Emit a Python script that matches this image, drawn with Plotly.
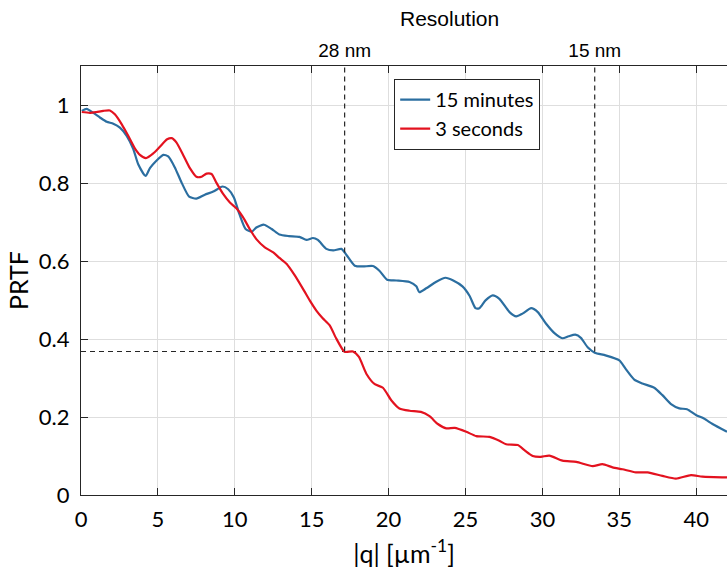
import plotly.graph_objects as go

# Phase retrieval transfer function vs. spatial frequency |q| (µm^-1)
q_15min = [0.05, 0.37, 0.8, 1.23, 1.67, 2.1, 2.53, 2.97, 3.4, 3.72, 4.2, 4.48, 4.9, 5.35, 5.67,
           6.1, 6.54, 7.03, 7.5, 8.05, 8.6, 9.2, 9.57, 9.94, 10.3, 10.7, 11.1, 11.4, 11.9, 12.4,
           12.9, 13.5, 14.2, 14.66, 15.08, 15.4, 15.95, 16.4, 16.93, 17.25, 17.8, 18.33, 18.98,
           19.4, 19.9, 20.5, 21.36, 21.8, 22.0, 22.45, 23.1, 23.7, 24.2, 24.8, 25.26, 25.65, 25.9,
           26.3, 26.77, 27.2, 27.86, 28.3, 28.7, 29.27, 29.7, 30.24, 30.78, 31.3, 31.7, 32.14,
           32.5, 32.94, 33.4, 34.1, 35.0, 35.4, 35.97, 36.5, 37.27, 37.8, 38.36, 38.9, 39.4,
           39.98, 40.5, 41.06, 42.0]
prtf_15min = [0.985, 0.99, 0.98, 0.968, 0.957, 0.952, 0.942, 0.921, 0.887, 0.848, 0.818, 0.838,
              0.857, 0.872, 0.868, 0.84, 0.801, 0.765, 0.76, 0.77, 0.778, 0.791, 0.784, 0.763,
              0.72, 0.682, 0.675, 0.686, 0.693, 0.682, 0.668, 0.664, 0.662, 0.654, 0.659, 0.654,
              0.631, 0.627, 0.631, 0.616, 0.588, 0.586, 0.587, 0.575, 0.552, 0.55, 0.546, 0.535,
              0.52, 0.53, 0.547, 0.557, 0.55, 0.535, 0.511, 0.479, 0.479, 0.499, 0.512, 0.503,
              0.469, 0.458, 0.465, 0.479, 0.469, 0.439, 0.415, 0.402, 0.407, 0.411, 0.403, 0.379,
              0.365, 0.358, 0.345, 0.324, 0.296, 0.286, 0.275, 0.256, 0.233, 0.222, 0.22, 0.205,
              0.196, 0.182, 0.162]

q_3s = [0.05, 0.58, 1.0, 1.45, 1.88, 2.2, 2.64, 3.07, 3.5, 3.83, 4.22, 4.7, 5.13, 5.6, 5.9, 6.2,
        6.64, 7.08, 7.5, 7.84, 8.16, 8.49, 8.8, 9.24, 9.68, 10.1, 10.54, 10.97, 11.4, 11.95,
        12.5, 12.9, 13.36, 13.9, 14.5, 14.87, 15.3, 15.7, 16.17, 16.6, 17.14, 17.68, 18.07,
        18.55, 19.1, 19.63, 20.17, 20.7, 21.36, 22.1, 22.66, 23.2, 23.75, 24.3, 25.05, 25.7,
        26.56, 27.2, 27.64, 28.4, 28.83, 29.37, 29.9, 30.45, 31.3, 32.2, 33.27, 33.9, 34.56,
        35.2, 36.08, 36.84, 37.8, 38.68, 39.66, 40.4, 42.0]
prtf_3s = [0.982, 0.98, 0.982, 0.985, 0.986, 0.976, 0.951, 0.921, 0.889, 0.872, 0.864, 0.876,
           0.893, 0.912, 0.915, 0.904, 0.872, 0.838, 0.816, 0.816, 0.824, 0.823, 0.801, 0.772,
           0.75, 0.735, 0.712, 0.682, 0.656, 0.635, 0.622, 0.608, 0.593, 0.563, 0.524, 0.499,
           0.473, 0.454, 0.435, 0.401, 0.367, 0.368, 0.354, 0.311, 0.284, 0.275, 0.243, 0.222,
           0.216, 0.213, 0.202, 0.182, 0.171, 0.172, 0.162, 0.151, 0.149, 0.139, 0.13, 0.128,
           0.115, 0.1, 0.098, 0.101, 0.088, 0.085, 0.074, 0.079, 0.071, 0.066, 0.058, 0.058,
           0.049, 0.042, 0.051, 0.047, 0.045]

# 1/e threshold and the |q| where each curve crosses it
threshold = 0.368
res_q = [17.14, 33.4]
res_labels = ["28 nm", "15 nm"]

x_ticks = [0, 5, 10, 15, 20, 25, 30, 35, 40]
y_ticks = [0, 0.2, 0.4, 0.6, 0.8, 1]
y_tick_text = ["0", "0.2", "0.4", "0.6", "0.8", "1"]

x_range = [0, 42]
y_range = [0, 1.1]

BLUE = "#2b6ea0"
RED = "#e3121f"
AXIS = "#262626"
GRID = "#dedede"
LABEL_FONT = "Lato, Carlito, Open Sans, sans-serif"
TOP_FONT = "Liberation Sans Narrow, Liberation Sans, Arial, sans-serif"

fig = go.Figure()

# threshold guide lines (dashed)
fig.add_trace(go.Scatter(
    x=[x_range[0], res_q[1]], y=[threshold, threshold], mode="lines",
    line=dict(color=AXIS, width=1.2, dash="5px,4px"), showlegend=False, hoverinfo="skip"))
for qv in res_q:
    fig.add_trace(go.Scatter(
        x=[qv, qv], y=[threshold, y_range[1]], xaxis="x2", mode="lines",
        line=dict(color=AXIS, width=1.2, dash="5px,4px"), showlegend=False, hoverinfo="skip"))

fig.add_trace(go.Scatter(
    x=q_15min, y=prtf_15min, mode="lines", name="15 minutes",
    line=dict(color=BLUE, width=2.2, shape="spline", smoothing=0.6)))
fig.add_trace(go.Scatter(
    x=q_3s, y=prtf_3s, mode="lines", name="3 seconds",
    line=dict(color=RED, width=2.2, shape="spline", smoothing=0.6)))

fig.update_layout(
    width=727, height=574,
    margin=dict(l=81, r=0, t=66, b=79),
    paper_bgcolor="white", plot_bgcolor="white",
    font=dict(family=LABEL_FONT, color="black"),
    xaxis=dict(
        range=x_range, tickvals=x_ticks, ticks="inside", ticklen=7, tickcolor=AXIS,
        showline=True, linecolor=AXIS, linewidth=1.3, mirror="ticks",
        showgrid=True, gridcolor=GRID, gridwidth=1, zeroline=False,
        tickfont=dict(family=LABEL_FONT, size=22), ticklabelstandoff=4,
        title=dict(text="|q| [µm<sup>-1</sup>]", font=dict(family=LABEL_FONT, size=25), standoff=14),
    ),
    xaxis2=dict(
        range=x_range, overlaying="x", side="top", anchor="y",
        tickvals=res_q, ticktext=res_labels, ticks="", showline=False,
        showgrid=False, zeroline=False,
        tickfont=dict(family=TOP_FONT, size=19), ticklabelstandoff=4,
    ),
    yaxis=dict(
        range=y_range, tickvals=y_ticks, ticktext=y_tick_text, ticks="inside", ticklen=7,
        tickcolor=AXIS, showline=True, linecolor=AXIS, linewidth=1.3,
        showgrid=True, gridcolor=GRID, gridwidth=1, zeroline=False,
        tickfont=dict(family=LABEL_FONT, size=22), ticklabelstandoff=6,
        title=dict(text="PRTF", font=dict(family=LABEL_FONT, size=25), standoff=2),
    ),
    legend=dict(
        x=0.4845, y=0.97, xanchor="left", yanchor="top",
        bgcolor="white", bordercolor=AXIS, borderwidth=1.2,
        font=dict(family=LABEL_FONT, size=20), itemwidth=30, tracegroupgap=0,
    ),
    annotations=[dict(
        text="Resolution", x=0.571, y=1.1096, xref="paper", yref="paper",
        xanchor="center", yanchor="middle", showarrow=False,
        font=dict(family=TOP_FONT, size=21, color="black"),
    )],
)

fig.write_html("out.html")
